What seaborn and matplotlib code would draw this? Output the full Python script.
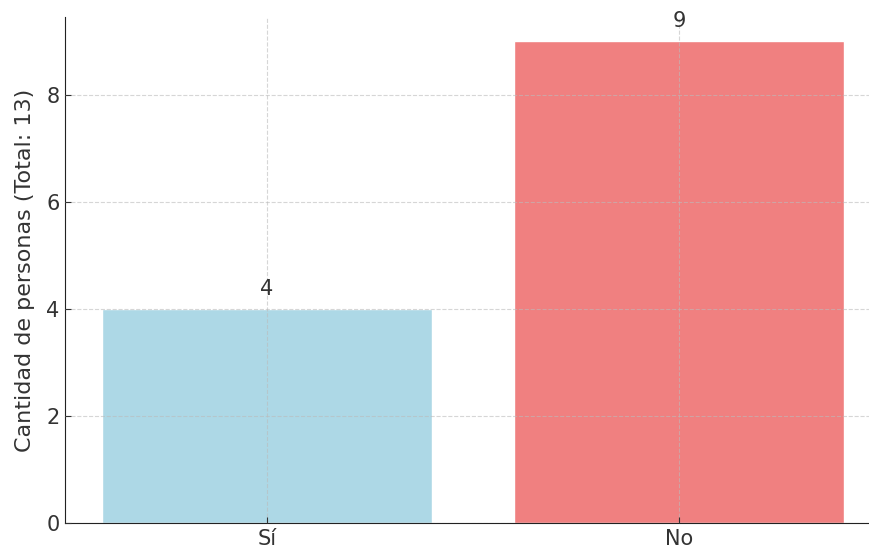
import pandas as pd
import matplotlib.pyplot as plt
import seaborn as sns

# datos de la encuesta
respuestas = ["Sí", "No"]
cantidades = [4, 9]
colores = ["lightblue", "lightcoral"]
total = sum(cantidades)

df = pd.DataFrame({"respuesta": respuestas, "cantidad": cantidades})

sns.set_style("ticks")
plt.rcParams['font.family'] = ['DejaVu Sans']
plt.rcParams['text.color'] = '#333333'
plt.rcParams['axes.labelcolor'] = '#333333'
plt.rcParams['xtick.color'] = '#333333'
plt.rcParams['ytick.color'] = '#333333'

fig = plt.figure(figsize=(8.7, 5.5), dpi=100)
# the original image is cropped: axes run past the right and top edges
ax = fig.add_axes([65 / 870, 27 / 550, 816 / 870, 506 / 550])

sns.barplot(data=df, x="respuesta", y="cantidad", hue="respuesta",
            palette=colores, width=0.8, saturation=1, legend=False, ax=ax)

for cont in ax.containers:
    ax.bar_label(cont, padding=7, fontsize=15, color='#333333')

ax.set_xlim(-0.49, 1.49)
ax.set_ylim(0, max(cantidades) * 1.05)
ax.set_yticks([0, 2, 4, 6, 8])
ax.set_xlabel("")
ax.set_ylabel(f"Cantidad de personas (Total: {total})", fontsize=16, labelpad=8)
ax.tick_params(axis='both', direction='in', labelsize=15, length=4, pad=4)
ax.grid(True, linestyle='--', color='#bbbbbb', alpha=0.6, linewidth=0.8)
ax.set_axisbelow(False)
sns.despine(ax=ax)
for s in ["left", "bottom"]:
    ax.spines[s].set_color('#222222')

plt.savefig('out.png', dpi=100)
plt.close()
